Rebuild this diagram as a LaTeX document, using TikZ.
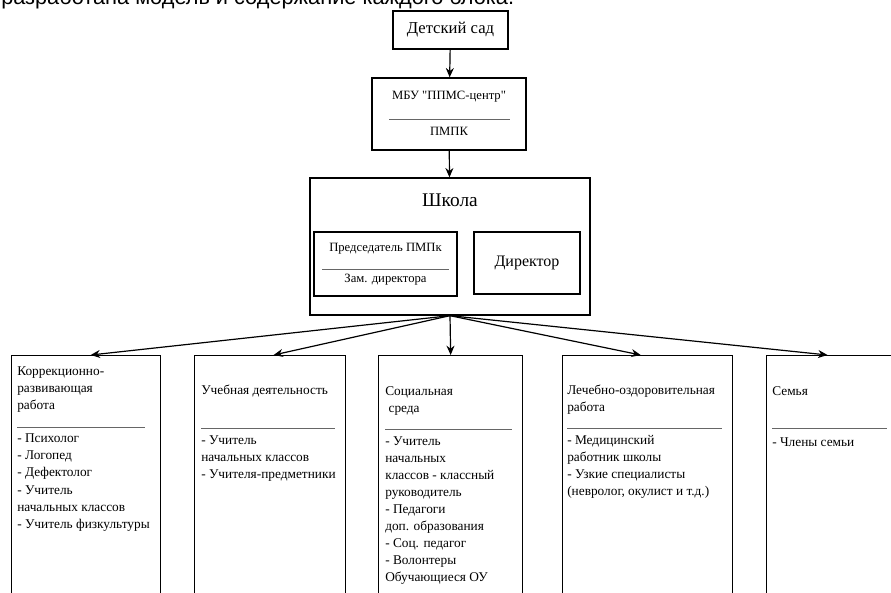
\documentclass[tikz,border=0pt]{standalone}
\usepackage{fontspec}
\setmainfont{Liberation Serif}
\newfontfamily\introfont{Liberation Sans}
\newfontfamily\plainserif{Liberation Serif}
\usetikzlibrary{arrows.meta}

\tikzset{
	blk/.style={draw, line width=1pt, inner sep=0pt},
	colbox/.style={blk, anchor=north west, minimum height=183.75pt},
	coltext/.style={anchor=north west, align=left, inner sep=0pt, font=\fontsize{10}{12.75}\selectfont, execute at begin node=\strut},
	rule/.style={line width=0.6pt, black!60},
	arr/.style={-{Stealth[length=7pt,width=6pt]}, line width=0.9pt}
}

\begin{document}
\begin{tikzpicture}[x=0.75pt, y=-0.75pt]
		%%%%% START %%%%%
		\useasboundingbox (0,0) rectangle (891,592);
		\clip (0,0) rectangle (891,592);
		
		\node[anchor=base west, inner sep=0pt, font=\introfont\fontsize{16.3}{19}\selectfont] (intro) at (1,5) {разработана модель и содержание каждого блока.};
		
		\node[blk, minimum width=86.25pt, minimum height=28.5pt, font=\fontsize{12.5}{14}\selectfont] (sad) at (450.5,30) {Детский сад};
		
		\node[blk, minimum width=115.5pt, minimum height=54pt] (mbu) at (449,114) {};
		\node[font=\plainserif\fontsize{9.5}{11}\selectfont] (mbuT) at (449,97) {МБУ "ППМС-центр"};
		\draw[rule] (389,119) -- (510,119);
		\node[font=\fontsize{9.5}{11}\selectfont] (mbuB) at (449,131) {ПМПК};
		
		\node[blk, minimum width=210pt, minimum height=102.75pt] (school) at (450,246.5) {};
		\node[font=\fontsize{14.5}{16}\selectfont] (schoolT) at (450,200) {Школа};
		\node[blk, minimum width=107.25pt, minimum height=48pt] (pred) at (385.5,264) {};
		\node[font=\fontsize{9.5}{11}\selectfont] (predT) at (385.5,249) {Председатель ПМПк};
		\draw[rule] (322,269) -- (449,269);
		\node[font=\fontsize{9.5}{11}\selectfont] (predB) at (385.5,280) {Зам. директора};
		\node[blk, minimum width=79.5pt, minimum height=46.5pt, font=\fontsize{12}{13}\selectfont] (dir) at (527,263) {Директор};
		
		\draw[arr] (sad) -- (mbu);
		\draw[arr] (mbu) -- (school);
		
		% columns
		\node[colbox, minimum width=111.75pt] (korr) at (11,355) {};
		\node[coltext] (korrT) at (17,366) {Коррекционно-\\развивающая\\работа};
		\draw[rule] (17,427) -- (145,427);
		\node[coltext, font=\fontsize{10}{13}\selectfont] (korrL) at (17,433) {- Психолог\\- Логопед\\- Дефектолог\\- Учитель\\начальных классов\\- Учитель физкультуры};
		
		\node[colbox, minimum width=113.25pt] (ucheb) at (194,355) {};
		\node[coltext] (uchebT) at (201,382) {Учебная деятельность};
		\draw[rule] (201,428) -- (335,428);
		\node[coltext] (uchebL) at (201,435) {- Учитель\\начальных классов\\- Учителя-предметники};
		
		\node[colbox, minimum width=108pt] (soc) at (378,355) {};
		\node[coltext] (socT) at (385,386) {Социальная\\\hspace{0.25em}среда};
		\draw[rule] (385,429) -- (512,429);
		\node[coltext] (socL) at (385,436) {- Учитель\\начальных\\классов - классный\\руководитель\\- Педагоги\\доп. образования\\- Соц. педагог\\- Волонтеры\\Обучающиеся ОУ};
		
		\node[colbox, minimum width=127.5pt] (lech) at (562,355) {};
		\node[coltext] (lechT) at (567,385) {Лечебно-оздоровительная\\работа};
		\draw[rule] (567,428) -- (722,428);
		\node[coltext] (lechL) at (567,435) {- Медицинский\\работник школы\\- Узкие специалисты\\(невролог, окулист и т.д.)};
		
		\node[colbox, minimum width=95.25pt] (semya) at (766,355) {};
		\node[coltext] (semyaT) at (772,383) {Семья};
		\draw[rule] (772,428) -- (887,428);
		\node[coltext] (semyaL) at (772,434) {- Члены семьи};
		
		\draw[arr] (school.south) -- ([xshift=3.4pt]korr.north);
		\draw[arr] (school.south) -- ([xshift=2.6pt]ucheb.north);
		\draw[arr] (school.south) -- (soc.north);
		\draw[arr] (school.south) -- ([xshift=-5.25pt]lech.north);
		\draw[arr] (school.south) -- ([xshift=-2pt]semya.north);
		%%%%% END %%%%%
\end{tikzpicture}
\end{document}
